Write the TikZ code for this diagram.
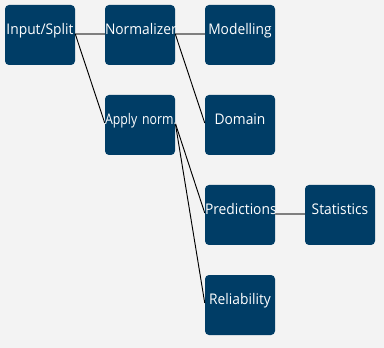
\documentclass[tikz,border=0pt]{standalone}
\usepackage{fontspec}
\setsansfont{Open Sans}[FakeStretch=0.94]
\definecolor{modulefill}{HTML}{003D66}
\definecolor{pagebg}{HTML}{F3F3F3}
\definecolor{linkgray}{HTML}{7F7F7F}
\tikzstyle{module}=[fill=modulefill, rounded corners=3pt, minimum width=52.5pt, minimum height=45pt, inner sep=0]
\tikzstyle{caption}=[text=white, font=\sffamily\fontsize{11}{13}\selectfont, text height=6pt, text depth=7pt, inner sep=0, text width=52.5pt, align=center]
\tikzstyle{main link}=[draw=linkgray, line width=1.5pt]
\tikzstyle{side link}=[draw=black, line width=0.7pt]

\begin{document}
\begin{tikzpicture}[x=0.75pt, y=-0.75pt]
      \fill[pagebg] (0,0) rectangle (384,348);
      \useasboundingbox (0,0) rectangle (384,348);

      \node[module] (split) at (40, 35) {};
      \node[module] (normalizer) at (140, 35) {};
      \node[module] (modelling) at (240, 35) {};
      \node[module] (apply) at (140, 125) {};
      \node[module] (domain) at (240, 125) {};
      \node[module] (predictions) at (240, 215) {};
      \node[module] (statistics) at (340, 215) {};
      \node[module] (reliability) at (240, 305) {};

      \draw[main link] ([yshift=0.75pt]split.east) to ([yshift=0.75pt]normalizer.west);
      \draw[main link] ([yshift=0.75pt]normalizer.east) to ([yshift=0.75pt]modelling.west);
      \draw[main link] ([yshift=0.75pt]predictions.east) to ([yshift=0.75pt]statistics.west);
      \draw[side link] ([yshift=0.75pt]split.east) to ([yshift=1.5pt]apply.west);
      \draw[side link] ([yshift=0.75pt]normalizer.east) to ([yshift=1.5pt]domain.west);
      \draw[side link] ([yshift=1.5pt]apply.east) to ([yshift=1.5pt]predictions.west);
      \draw[side link] ([yshift=1.5pt]apply.east) to ([yshift=1.5pt]reliability.west);

      % captions are cut off at the box edges
      \begin{scope}
        \clip (split.south west) rectangle (split.north east)
              (normalizer.south west) rectangle (normalizer.north east)
              (modelling.south west) rectangle (modelling.north east)
              (apply.south west) rectangle (apply.north east)
              (domain.south west) rectangle (domain.north east)
              (predictions.south west) rectangle (predictions.north east)
              (statistics.south west) rectangle (statistics.north east)
              (reliability.south west) rectangle (reliability.north east);
        \node[caption] (split text) at (split) {Input/Split};
        \node[caption] (normalizer text) at (normalizer) {Normalizer};
        \node[caption] (modelling text) at (modelling) {Modelling};
        \node[caption] (apply text) at (apply) {\addfontfeature{FakeStretch=0.84}Apply~norm.};
        \node[caption] (domain text) at (domain) {Domain};
        \node[caption] (predictions text) at (predictions) {Predictions};
        \node[caption] (statistics text) at (statistics) {Statistics};
        \node[caption] (reliability text) at (reliability) {Reliability};
      \end{scope}
    \end{tikzpicture}
\end{document}
